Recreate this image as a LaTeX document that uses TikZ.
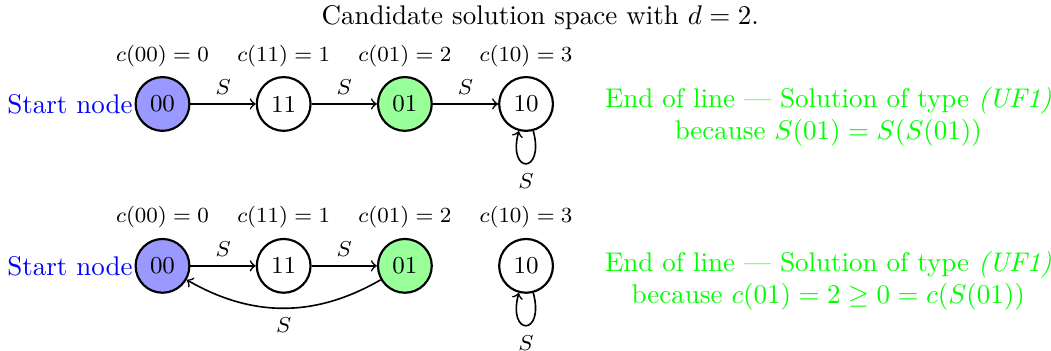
\documentclass[tikz,border=0pt]{standalone}
\usetikzlibrary{positioning}

\begin{document}
\begin{tikzpicture}[>=to,node distance=0.85cm,
  state/.style={circle,draw,thick,minimum size=0.7cm,inner sep=0pt,font=\small},
  cost/.style={label={[font=\footnotesize]above:#1}},
  start/.style={fill=blue!40,label={[blue,inner sep=0.5pt]left:Start node}},
  sol/.style={fill=green!40},
  lbl/.style={font=\footnotesize},
  note/.style={green,align=center}]
\useasboundingbox (-2.116,-3.216) rectangle (11.57,1.354);
\node (title) at (4.92,1.12) {Candidate solution space with $d=2$.};
% first row: S(01) = S(S(01))
\node[state,start,cost={$c(00)=0$}] (a00) {00};
\node[state,cost={$c(11)=1$},right=of a00] (a11) {11};
\node[state,sol,cost={$c(01)=2$},right=of a11] (a01) {01};
\node[state,cost={$c(10)=3$},right=of a01] (a10) {10};
\draw[->,semithick] (a00) -- node[lbl,above] {$S$} (a11);
\draw[->,semithick] (a11) -- node[lbl,above] {$S$} (a01);
\draw[->,semithick] (a01) -- node[lbl,above] {$S$} (a10);
\draw[->,semithick] (a10) to[out=-75,in=-105,loop] node[lbl,below] {$S$} (a10);
\node[note] (n1) at (8.67,-0.17) {End of line --- Solution of type \textit{(UF1)}\\because $S(01)=S(S(01))$};
% second row: cost goes down
\node[state,start,cost={$c(00)=0$},below=1.38cm of a00] (b00) {00};
\node[state,cost={$c(11)=1$},right=of b00] (b11) {11};
\node[state,sol,cost={$c(01)=2$},right=of b11] (b01) {01};
\node[state,cost={$c(10)=3$},right=of b01] (b10) {10};
\draw[->,semithick] (b00) -- node[lbl,above] {$S$} (b11);
\draw[->,semithick] (b11) -- node[lbl,above] {$S$} (b01);
\draw[->,semithick] (b01) to[bend left=30] node[lbl,below] {$S$} (b00);
\draw[->,semithick] (b10) to[out=-75,in=-105,loop] node[lbl,below] {$S$} (b10);
\node[note] (n2) at (8.67,-2.30) {End of line --- Solution of type \textit{(UF1)}\\because $c(01)=2\geq 0=c(S(01))$};
\end{tikzpicture}
\end{document}
